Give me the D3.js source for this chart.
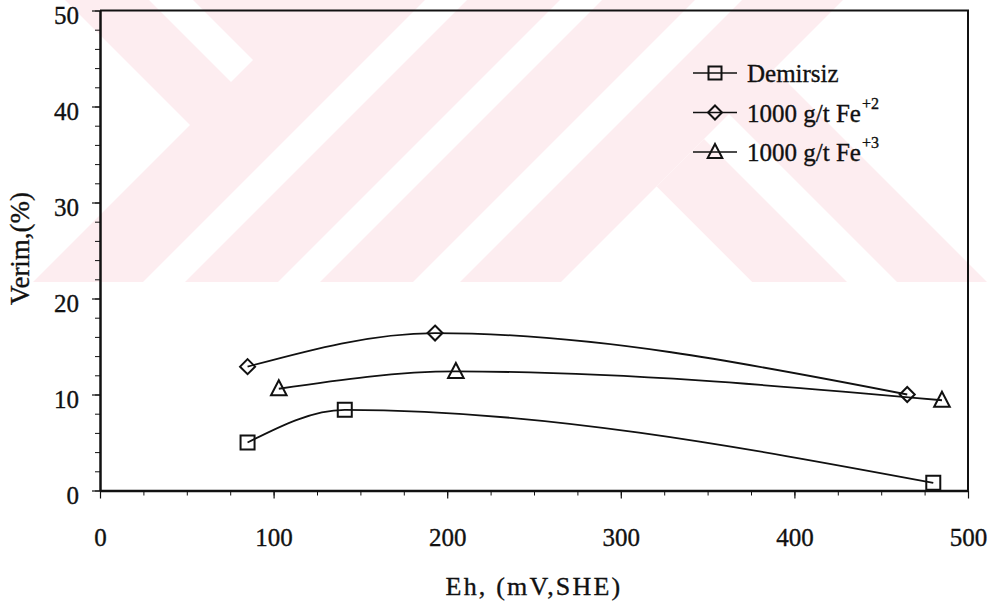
<!DOCTYPE html>
<html>
<head>
<meta charset="utf-8">
<script src="https://cdn.jsdelivr.net/npm/d3@7"></script>
<style>
  body { margin: 0; background: #fff; }
  svg { display: block; }
  text { font-family: "Liberation Serif", "Times New Roman", serif; fill: #111; stroke: #111; stroke-width: 0.35px; }
</style>
</head>
<body>
<svg id="chart" width="998" height="606"></svg>
<script>
// Series data: Eh (mV, SHE) against Verim (%)
const ehDemirsiz = [85, 141, 480];
const verimDemirsiz = [5.0, 8.4, 0.8];
const ehFe2 = [85, 193, 465];
const verimFe2 = [12.9, 16.4, 10.0];
const ehFe3 = [103, 205, 485];
const verimFe3 = [10.6, 12.4, 9.4];

const seriesNames = ["Demirsiz", "1000 g/t Fe", "1000 g/t Fe"];
const seriesCharges = ["", "+2", "+3"];
const seriesSymbols = ["square", "diamond", "triangle"];

const xTicks = [0, 100, 200, 300, 400, 500];
const yTicks = [0, 10, 20, 30, 40, 50];
const xMinorTicks = d3.range(0, 501, 25);
const yMinorTicks = d3.range(0, 51, 2);

const xTitle = "Eh, (mV,SHE)";
const yTitle = "Verim,(%)";

const svg = d3.select("#chart");
const plot = { left: 100, right: 968, top: 10.5, bottom: 490.5 };

const x = d3.scaleLinear().domain([0, 500]).range([plot.left, plot.right]);
const y = d3.scaleLinear().domain([0, 50]).range([plot.bottom, plot.top]);

// ---- background stamp (pale diagonal bands behind the plot) ----
const pink = "#fdedf0";
const defs = svg.append("defs");
defs.append("clipPath").attr("id", "stampClip")
  .append("rect").attr("x", 0).attr("y", 0).attr("width", 990).attr("height", 282);
const stamp = svg.append("g").attr("clip-path", "url(#stampClip)");
stamp.append("rect").attr("x", 0).attr("y", 0).attr("width", 990).attr("height", 282).attr("fill", pink);

// band along x + y = c (rising "/" strip), from c0 to c1
const riseBand = (c0, c1) => [[c0 + 10, -10], [c1 + 10, -10], [c1 - 292, 292], [c0 - 292, 292]];
const whiteShapes = [
  [[190, 125], [65, 0], [-10, 0], [-10, 300], [15, 300]],            // left chevron
  [[139, -10], [183, -10], [253, 60], [231, 82]],                   // short falling bar
  riseBand(425, 467),
  riseBand(560, 602),
  [[656.5, 186.5], [853, -10], [1100, -10], [1100, 292], [762, 292]] // upper right open area
];
const pinkShapes = [
  [[656.5, 186.5], [704, 139], [857, 292], [762, 292]],               // falling strip from the apex
  [[605, -10], [695, -10], [995, 290], [905, 290]]                    // long falling strip
];
const topWhite = [
  riseBand(695, 742),
  [[656.5, 186.5], [762, 292], [551, 292]]                            // inner triangle
];
const poly = d3.line();
stamp.selectAll("path.w1").data(whiteShapes).join("path").attr("d", d => poly(d) + "Z").attr("fill", "#fff");
stamp.selectAll("path.p1").data(pinkShapes).join("path").attr("d", d => poly(d) + "Z").attr("fill", pink);
stamp.selectAll("path.w2").data(topWhite).join("path").attr("d", d => poly(d) + "Z").attr("fill", "#fff");

// ---- axes ----
const ink = "#111";
const fontTick = 25;

const gx = svg.append("g").attr("transform", `translate(0,${plot.bottom})`)
  .call(d3.axisBottom(x).tickValues(xTicks).tickSize(8).tickPadding(29.5).tickSizeOuter(0));
gx.select(".domain").attr("stroke", ink).attr("stroke-width", 2.5);
gx.selectAll(".tick line").attr("stroke", ink).attr("stroke-width", 1.2);
gx.selectAll(".tick text").attr("font-size", fontTick).attr("fill", ink);

const gxm = svg.append("g").attr("transform", `translate(0,${plot.bottom})`)
  .call(d3.axisBottom(x).tickValues(xMinorTicks).tickSize(5).tickFormat(""));
gxm.select(".domain").remove();
gxm.selectAll(".tick line").attr("stroke", ink).attr("stroke-width", 1);

const gy = svg.append("g").attr("transform", `translate(${plot.left},0)`)
  .call(d3.axisLeft(y).tickValues(yTicks).tickSize(8).tickPadding(13).tickSizeOuter(0));
gy.select(".domain").attr("stroke", ink).attr("stroke-width", 2.5);
gy.selectAll(".tick line").attr("stroke", ink).attr("stroke-width", 1.2);
gy.selectAll(".tick text").attr("font-size", fontTick).attr("fill", ink).attr("dy", "0.5em");

const gym = svg.append("g").attr("transform", `translate(${plot.left},0)`)
  .call(d3.axisLeft(y).tickValues(yMinorTicks).tickSize(5).tickFormat(""));
gym.select(".domain").remove();
gym.selectAll(".tick line").attr("stroke", ink).attr("stroke-width", 1);

// frame: top and right edges
svg.append("path")
  .attr("d", `M${x(0)},${y(50)}H${x(500)}V${y(0)}`)
  .attr("fill", "none").attr("stroke", ink).attr("stroke-width", 2);

// axis titles
svg.append("text").attr("x", (plot.left + plot.right) / 2).attr("y", 595)
  .attr("text-anchor", "middle").attr("font-size", 26).attr("letter-spacing", 2.2).text(xTitle);
svg.append("text").attr("transform", `translate(29,${(plot.top + plot.bottom) / 2 - 2}) rotate(-90)`)
  .attr("text-anchor", "middle").attr("font-size", 27).text(yTitle);

// ---- series ----
const series = [
  { eh: ehDemirsiz, v: verimDemirsiz },
  { eh: ehFe2, v: verimFe2 },
  { eh: ehFe3, v: verimFe3 }
].map((s, i) => ({
  name: seriesNames[i], charge: seriesCharges[i], symbol: seriesSymbols[i],
  points: s.eh.map((e, j) => ({ eh: e, v: s.v[j] }))
}));

const curve = d3.line().x(d => x(d.eh)).y(d => y(d.v)).curve(d3.curveMonotoneX);

function markerPath(sym, r) {
  if (sym === "square") return `M${-r},${-r}H${r}V${r}H${-r}Z`;
  if (sym === "diamond") return `M0,${-r - 0.5}L${r + 0.5},0L0,${r + 0.5}L${-r - 0.5},0Z`;
  return `M0,${-r - 1.5}L${r + 0.8},${r - 0.5}H${-r - 0.8}Z`;
}

const gs = svg.append("g");
series.forEach(s => {
  gs.append("path").attr("d", curve(s.points))
    .attr("fill", "none").attr("stroke", ink).attr("stroke-width", 1.8);
  gs.selectAll(null).data(s.points).join("path")
    .attr("transform", d => `translate(${x(d.eh)},${y(d.v)})`)
    .attr("d", markerPath(s.symbol, 7))
    .attr("fill", "none").attr("stroke", ink).attr("stroke-width", 2);
});

// ---- legend ----
const legend = svg.append("g").attr("transform", "translate(693,73)");
const rowGap = 39.5;
series.forEach((s, i) => {
  const g = legend.append("g").attr("transform", `translate(0,${i * rowGap})`);
  g.append("line").attr("x1", 0).attr("x2", 44).attr("y1", 0).attr("y2", 0)
    .attr("stroke", ink).attr("stroke-width", 1.6);
  g.append("path").attr("transform", "translate(22,0)").attr("d", markerPath(s.symbol, 6.5))
    .attr("fill", "none").attr("stroke", ink).attr("stroke-width", 2);
  const t = g.append("text").attr("x", 54).attr("y", 9).attr("font-size", 25).text(s.name);
  if (s.charge) {
    t.append("tspan").attr("dy", -13).attr("dx", 1).attr("font-size", 16).text(s.charge);
  }
});
</script>
</body>
</html>
